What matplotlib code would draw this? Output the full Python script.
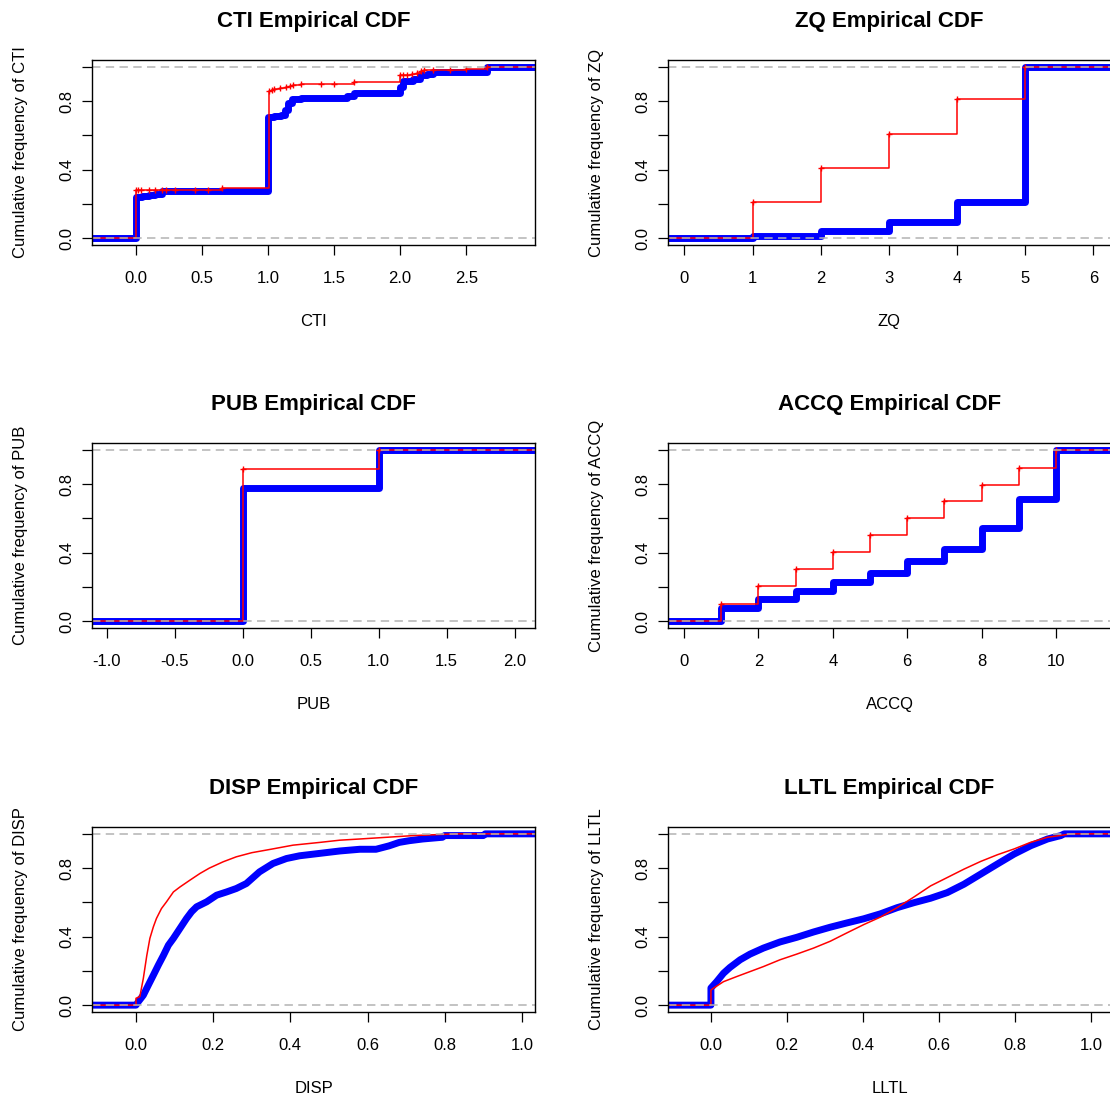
import matplotlib
matplotlib.use('Agg')
import matplotlib.pyplot as plt

plt.rcParams['font.family'] = ['Liberation Sans', 'DejaVu Sans']

# CTI
cti_obs_x = [0.0, 0.05, 0.1, 0.15, 0.2, 1.0, 1.05, 1.1, 1.13, 1.15, 1.18, 1.25, 1.6, 1.65, 2.0, 2.02, 2.1, 2.15, 2.2, 2.25, 2.66]
cti_obs_y = [0.24, 0.245, 0.25, 0.26, 0.275, 0.71, 0.715, 0.72, 0.75, 0.79, 0.81, 0.82, 0.83, 0.85, 0.88, 0.92, 0.93, 0.95, 0.96, 0.97, 1.0]
cti_fit_x = [0.0, 0.02, 0.04, 0.1, 0.15, 0.2, 0.23, 0.3, 0.45, 0.55, 0.65, 1.01, 1.03, 1.05, 1.09, 1.14, 1.17, 1.19, 1.25, 1.4, 1.5, 1.65, 2.0, 2.02, 2.05, 2.09, 2.13, 2.16, 2.18, 2.25, 2.38, 2.5, 2.66]
cti_fit_y = [0.28, 0.28, 0.28, 0.28, 0.28, 0.28, 0.282, 0.282, 0.282, 0.282, 0.29, 0.86, 0.865, 0.87, 0.875, 0.885, 0.89, 0.895, 0.90, 0.90, 0.90, 0.91, 0.95, 0.955, 0.955, 0.96, 0.965, 0.975, 0.98, 0.98, 0.98, 0.985, 1.0]

# ZQ
zq_obs_x = [1, 2, 3, 4, 5]
zq_obs_y = [0.012, 0.043, 0.095, 0.21, 1.0]
zq_fit_x = [1, 2, 3, 4, 5]
zq_fit_y = [0.21, 0.41, 0.61, 0.81, 1.0]

# PUB
pub_obs_x = [0, 1]
pub_obs_y = [0.775, 1.0]
pub_fit_x = [0, 1]
pub_fit_y = [0.89, 1.0]

# ACCQ
accq_obs_x = [1, 2, 3, 4, 5, 6, 7, 8, 9, 10]
accq_obs_y = [0.074, 0.132, 0.175, 0.23, 0.284, 0.352, 0.42, 0.545, 0.716, 1.0]
accq_fit_x = [1, 2, 3, 4, 5, 6, 7, 8, 9, 10]
accq_fit_y = [0.10, 0.205, 0.305, 0.405, 0.505, 0.605, 0.70, 0.795, 0.895, 1.0]

# DISP
disp_obs_x = [0.0, 0.006, 0.019, 0.032, 0.045, 0.058, 0.071, 0.084, 0.097, 0.114, 0.131, 0.144, 0.157, 0.183, 0.209, 0.235, 0.26, 0.286, 0.32, 0.355, 0.39, 0.424, 0.476, 0.528, 0.58, 0.622, 0.656, 0.682, 0.708, 0.743, 0.794, 0.80, 0.90, 0.905]
disp_obs_y = [0.0, 0.02, 0.058, 0.117, 0.175, 0.234, 0.29, 0.35, 0.39, 0.448, 0.506, 0.545, 0.574, 0.603, 0.642, 0.661, 0.681, 0.71, 0.778, 0.827, 0.856, 0.872, 0.886, 0.90, 0.91, 0.91, 0.93, 0.95, 0.96, 0.97, 0.98, 0.99, 0.99, 1.0]
disp_fit_x = [0.0, 0.01, 0.019, 0.028, 0.036, 0.045, 0.053, 0.066, 0.079, 0.097, 0.114, 0.14, 0.166, 0.19, 0.226, 0.26, 0.30, 0.347, 0.407, 0.476, 0.528, 0.58, 0.65, 0.72, 0.83]
disp_fit_y = [0.04, 0.05, 0.156, 0.29, 0.39, 0.457, 0.506, 0.564, 0.603, 0.661, 0.69, 0.73, 0.769, 0.80, 0.837, 0.866, 0.89, 0.909, 0.934, 0.95, 0.963, 0.97, 0.98, 0.99, 1.0]

# LLTL
lltl_obs_x = [0.0, 0.0, 0.015, 0.033, 0.05, 0.077, 0.103, 0.138, 0.182, 0.226, 0.27, 0.314, 0.358, 0.402, 0.446, 0.49, 0.534, 0.578, 0.622, 0.666, 0.71, 0.754, 0.798, 0.842, 0.886, 0.921, 0.93]
lltl_obs_y = [0.0, 0.1, 0.137, 0.186, 0.22, 0.265, 0.298, 0.333, 0.369, 0.396, 0.427, 0.455, 0.48, 0.504, 0.533, 0.569, 0.598, 0.624, 0.657, 0.706, 0.765, 0.824, 0.882, 0.931, 0.97, 0.99, 1.0]
lltl_fit_x = [0.0, 0.006, 0.033, 0.068, 0.103, 0.138, 0.182, 0.226, 0.27, 0.314, 0.358, 0.402, 0.446, 0.49, 0.534, 0.578, 0.622, 0.666, 0.71, 0.754, 0.798, 0.842, 0.886, 0.93, 0.947]
lltl_fit_y = [0.088, 0.098, 0.137, 0.167, 0.196, 0.225, 0.265, 0.298, 0.333, 0.373, 0.422, 0.47, 0.514, 0.569, 0.631, 0.696, 0.745, 0.794, 0.839, 0.878, 0.912, 0.951, 0.98, 0.994, 1.0]

names = ['CTI', 'ZQ', 'PUB', 'ACCQ', 'DISP', 'LLTL']
obs = [(cti_obs_x, cti_obs_y), (zq_obs_x, zq_obs_y), (pub_obs_x, pub_obs_y),
       (accq_obs_x, accq_obs_y), (disp_obs_x, disp_obs_y), (lltl_obs_x, lltl_obs_y)]
fit = [(cti_fit_x, cti_fit_y), (zq_fit_x, zq_fit_y), (pub_fit_x, pub_fit_y),
       (accq_fit_x, accq_fit_y), (disp_fit_x, disp_fit_y), (lltl_fit_x, lltl_fit_y)]
steps = [True, True, True, True, False, False]

xlims = [(-0.33, 3.02), (-0.24, 6.26), (-1.11, 2.15), (-0.43, 11.48), (-0.114, 1.034), (-0.113, 1.053)]
xticks = [[0, 0.5, 1, 1.5, 2, 2.5], [0, 1, 2, 3, 4, 5, 6], [-1, -0.5, 0, 0.5, 1, 1.5, 2],
          [0, 2, 4, 6, 8, 10], [0, 0.2, 0.4, 0.6, 0.8, 1.0], [0, 0.2, 0.4, 0.6, 0.8, 1.0]]
xfmt = ['%.1f', '%d', '%.1f', '%d', '%.1f', '%.1f']

fig = plt.figure(figsize=(11.1, 11.03), dpi=100)
lefts = [92, 668]
bottoms = [245, 628, 1012]

for i, name in enumerate(names):
    r, c = divmod(i, 2)
    ax = fig.add_axes([lefts[c] / 1110, 1 - bottoms[r] / 1103, 443 / 1110, 185 / 1103])
    lo, hi = xlims[i]

    for (x, y), col, lw in [(obs[i], 'blue', 5.0), (fit[i], 'red', 1.1)]:
        xx = [lo, x[0]] + list(x) + [hi]
        yy = [0, 0] + list(y) + [y[-1]]
        if steps[i]:
            ax.step(xx, yy, where='post', color=col, lw=lw,
                    solid_capstyle='round', solid_joinstyle='round')
            if col == 'red':
                ax.plot(x, y, '+', color='red', ms=4, mew=1)
        else:
            ax.plot(xx, yy, color=col, lw=lw,
                    solid_capstyle='round', solid_joinstyle='round')

    # horizontal reference lines at 0 and 1
    for h in [0, 1]:
        ax.axhline(h, color='#b3b3b3', lw=1.1, ls=(0, (5.5, 3.5)))

    ax.set_xlim(lo, hi)
    ax.set_ylim(-0.04, 1.04)
    ax.set_xticks(xticks[i])
    ax.set_xticklabels([xfmt[i] % t for t in xticks[i]])
    ax.set_yticks([0, 0.2, 0.4, 0.6, 0.8, 1.0])
    ax.set_yticklabels(['0.0', '', '0.4', '', '0.8', ''], rotation=90, va='center')
    ax.tick_params(axis='both', length=7.5, width=0.9, labelsize=12)
    ax.tick_params(axis='x', pad=11)
    ax.tick_params(axis='y', pad=5)
    for s in ax.spines.values():
        s.set_linewidth(1.0)

    ax.set_title(name + ' Empirical CDF', fontsize=16, fontweight='bold', pad=24)
    ax.set_xlabel(name, fontsize=12, va='center')
    ax.xaxis.set_label_coords(0.5, -0.416)
    ax.set_ylabel('Cumulative frequency of ' + name, fontsize=12, va='center')
    ax.yaxis.set_label_coords(-0.162, 0.5)

fig.savefig('out.png', dpi=100)
